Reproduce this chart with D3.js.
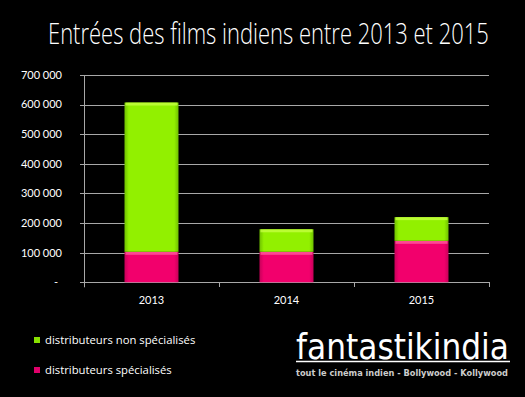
<!DOCTYPE html>
<html lang="fr">
<head>
<meta charset="UTF-8">
<title>Entrées des films indiens</title>
<script src="https://d3js.org/d3.v7.min.js"></script>
<style>
    body { margin: 0; background: #000; overflow: hidden; }
    svg { display: block; }
    .tick-label { font-family: Lato, "Open Sans", sans-serif; font-size: 11px; fill: #fff; }
    .legend-label { font-family: "Open Sans", Lato, sans-serif; font-size: 11.3px; fill: #fff; }
</style>
</head>
<body>
<svg id="chart"></svg>
<script>
    // Données
    const years = ["2013", "2014", "2015"];
    const specialises = [103000, 103000, 140000];
    const nonSpecialises = [504000, 76000, 80000];
    const yTicks = [0, 100000, 200000, 300000, 400000, 500000, 600000, 700000];
    const seriesNames = ["distributeurs non spécialisés", "distributeurs spécialisés"];

    const width = 525, height = 397;
    const margin = { top: 75, right: 36, bottom: 115, left: 84 };

    const svg = d3.select("#chart")
        .attr("width", width)
        .attr("height", height);

    // ajuste la taille de police pour tenir dans une largeur donnée
    function fitText(sel, targetWidth, baseSize) {
        sel.attr("font-size", baseSize);
        const w = sel.node().getComputedTextLength();
        sel.attr("font-size", baseSize * targetWidth / w);
    }
    // comprime horizontalement un texte (garde la hauteur)
    function squeezeText(g, sel, x0, y0, targetWidth) {
        const w = sel.node().getComputedTextLength();
        g.attr("transform", `translate(${x0},${y0}) scale(${targetWidth / w},1)`);
    }

    // dégradés des barres
    const defs = svg.append("defs");
    function addGradient(id, edge, mid) {
        const grad = defs.append("linearGradient").attr("id", id)
            .attr("x1", 0).attr("x2", 1).attr("y1", 0).attr("y2", 0);
        grad.append("stop").attr("offset", "0%").attr("stop-color", edge);
        grad.append("stop").attr("offset", "8%").attr("stop-color", mid);
        grad.append("stop").attr("offset", "92%").attr("stop-color", mid);
        grad.append("stop").attr("offset", "100%").attr("stop-color", edge);
    }
    addGradient("gGreen", "#6fc000", "#92f000");
    addGradient("gPink", "#c8005a", "#f2006c");

    // Titre
    const titleG = svg.append("g");
    const title = titleG.append("text")
        .attr("font-family", "'Open Sans', sans-serif")
        .attr("font-weight", 300)
        .attr("font-size", 29)
        .attr("fill", "#fff")
        .text("Entrées des films indiens entre 2013 et 2015");
    squeezeText(titleG, title, 48, 44, 441);

    const x = d3.scaleBand()
        .domain(years)
        .range([margin.left, width - margin.right])
        .paddingInner(0.6)
        .paddingOuter(0.3);

    const y = d3.scaleLinear()
        .domain([0, 700000])
        .range([height - margin.bottom + 0.3, margin.top]);

    const fmt = v => v === 0 ? "-" : d3.format(",")(v).replace(/,/g, "\u202F");

    // Grille
    svg.append("g")
        .selectAll("line")
        .data(yTicks)
        .join("line")
        .attr("x1", margin.left - 4)
        .attr("x2", width - margin.right)
        .attr("y1", d => Math.round(y(d)) + 0.5)
        .attr("y2", d => Math.round(y(d)) + 0.5)
        .attr("stroke", "#a8a8a8")
        .attr("stroke-width", 1);

    // Axe vertical
    svg.append("line")
        .attr("x1", margin.left + 0.5)
        .attr("x2", margin.left + 0.5)
        .attr("y1", y(700000))
        .attr("y2", y(0) + 5)
        .attr("stroke", "#a8a8a8");

    // Étiquettes Y
    svg.append("g")
        .selectAll("text")
        .data(yTicks)
        .join("text")
        .attr("class", "tick-label")
        .attr("x", d => d === 0 ? 58 : 62)
        .attr("y", d => y(d))
        .attr("dy", "0.35em")
        .attr("text-anchor", "end")
        .text(fmt);

    // Graduations de l'axe X (limites des catégories)
    const slot = (width - margin.right - margin.left) / years.length;
    const bounds = years.map((d, i) => margin.left + slot * (i + 1));
    svg.append("g")
        .selectAll("line")
        .data(bounds)
        .join("line")
        .attr("x1", d => Math.round(d) + 0.5)
        .attr("x2", d => Math.round(d) + 0.5)
        .attr("y1", Math.round(y(0)))
        .attr("y2", Math.round(y(0)) + 5)
        .attr("stroke", "#a8a8a8");

    // Barres empilées
    const stackData = years.map((yr, i) => ({ year: yr, spec: specialises[i], non: nonSpecialises[i] }));
    const stack = d3.stack().keys(["spec", "non"])(stackData);
    const fills = { spec: "url(#gPink)", non: "url(#gGreen)" };
    const highlights = { spec: "#ff5a9c", non: "#c4ff40" };

    const layers = svg.append("g")
        .selectAll("g")
        .data(stack)
        .join("g");

    layers.selectAll("rect.bar")
        .data(d => d.map(p => ({ key: d.key, p })))
        .join("rect")
        .attr("class", "bar")
        .attr("x", d => x(d.p.data.year))
        .attr("width", x.bandwidth())
        .attr("y", d => y(d.p[1]))
        .attr("height", d => y(d.p[0]) - y(d.p[1]))
        .attr("fill", d => fills[d.key]);

    // liseré clair en haut de chaque segment
    layers.selectAll("rect.hl")
        .data(d => d.map(p => ({ key: d.key, p })))
        .join("rect")
        .attr("class", "hl")
        .attr("x", d => x(d.p.data.year) + 1)
        .attr("width", x.bandwidth() - 2)
        .attr("y", d => y(d.p[1]))
        .attr("height", 3)
        .attr("fill", d => highlights[d.key])
        .attr("opacity", 0.8);

    // Étiquettes X
    svg.append("g")
        .selectAll("text")
        .data(years)
        .join("text")
        .attr("class", "tick-label")
        .attr("font-size", 12)
        .attr("x", d => x(d) + x.bandwidth() / 2)
        .attr("y", 300)
        .attr("dy", "0.35em")
        .attr("text-anchor", "middle")
        .text(d => d);

    // Légende
    const legendColors = ["#88e000", "#e0006a"];
    const legend = svg.append("g")
        .selectAll("g")
        .data(seriesNames)
        .join("g")
        .attr("transform", (d, i) => `translate(34, ${340 + i * 30})`);
    legend.append("rect")
        .attr("x", 0).attr("y", -3)
        .attr("width", 6).attr("height", 6)
        .attr("fill", (d, i) => legendColors[i]);
    legend.append("text")
        .attr("class", "legend-label")
        .attr("x", 11)
        .attr("dy", "0.35em")
        .text(d => d);

    // Logo
    const logoG = svg.append("g");
    const logo = logoG.append("text")
        .attr("font-family", "'DejaVu Sans', sans-serif")
        .attr("font-size", 36)
        .attr("fill", "#fff")
        .text("fantastikindia");
    squeezeText(logoG, logo, 296, 359, 213);
    svg.append("line")
        .attr("x1", 296).attr("x2", 510)
        .attr("y1", 361.5).attr("y2", 361.5)
        .attr("stroke", "#fff").attr("stroke-width", 1.5);
    const tagline = svg.append("text")
        .attr("x", 296)
        .attr("y", 376)
        .attr("font-family", "'DejaVu Sans', sans-serif")
        .attr("font-weight", "bold")
        .attr("fill", "#ccc")
        .text("tout le cinéma indien - Bollywood - Kollywood");
    fitText(tagline, 212, 7);
</script>
</body>
</html>
